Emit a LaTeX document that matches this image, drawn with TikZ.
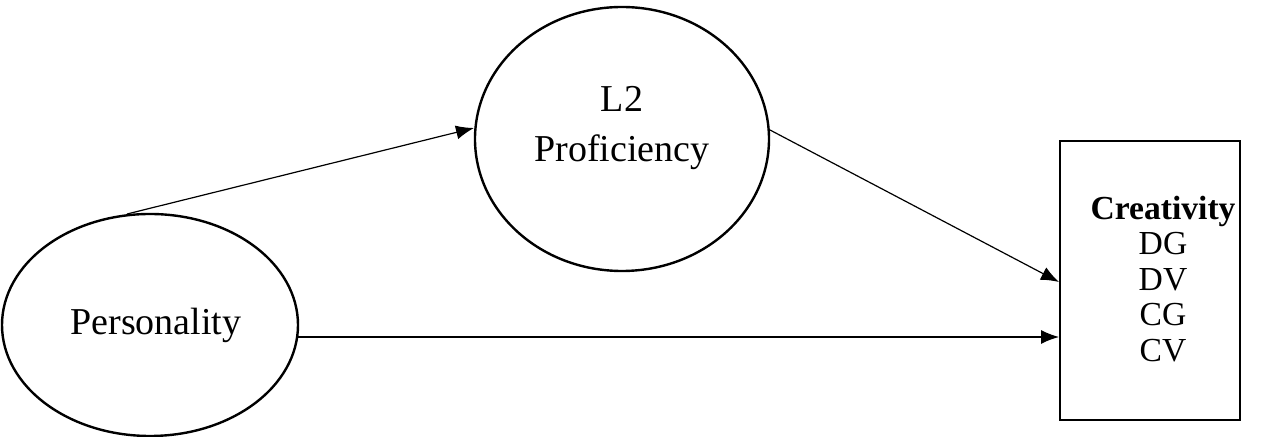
\documentclass[tikz,border=0pt]{standalone}
\usepackage{fontspec}
\setmainfont{Liberation Serif}
\usetikzlibrary{arrows.meta}
\begin{document}
\begin{tikzpicture}[x=0.5pt,y=-0.5pt,
  every node/.style={font=\fontsize{19}{25}\selectfont},
  conn/.style={-{Latex[length=9pt,width=7pt]},line width=0.6pt},
  shp/.style={draw,line width=1.2pt}]
\useasboundingbox (0,0) rectangle (1271,437);
\draw[shp] (150,325) ellipse [x radius=148,y radius=111];
\node (pers) at (156,325) {Personality};
\draw[shp] (622,139) ellipse [x radius=147,y radius=132];
\node[align=center] (l2) at (622,128) {L2\\Proficiency};
\draw[shp] (1060,141) rectangle (1240,420);
\node[align=center,font=\fontsize{16.8}{17.8}\selectfont] (cre) at (1163,279) {\textbf{Creativity}\\DG\\DV\\CG\\CV};
\coordinate (a1) at (127,214);
\coordinate (a2) at (474,128);
\coordinate (b1) at (770,130);
\coordinate (b2) at (1059,282);
\coordinate (c1) at (298,337);
\coordinate (c2) at (1059,337);
\draw[conn] (a1) -- (a2);
\draw[conn] (b1) -- (b2);
\draw[conn] (c1) -- (c2);
\end{tikzpicture}
\end{document}
